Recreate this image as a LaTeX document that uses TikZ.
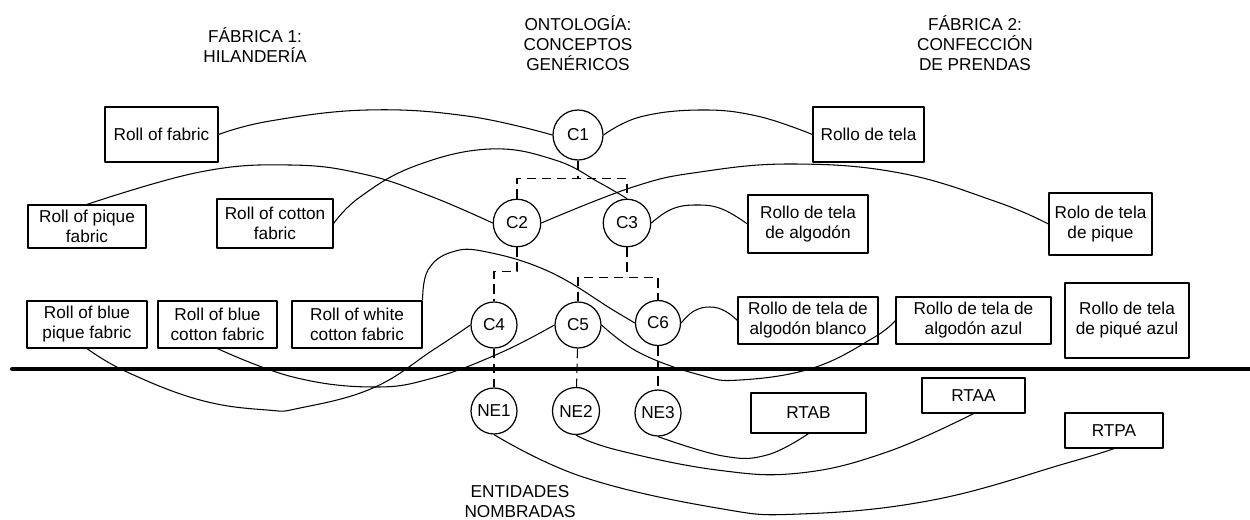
\documentclass[tikz,border=0pt]{standalone}
\usepackage{fontspec}
\setmainfont{Liberation Sans}

\begin{document}
\begin{tikzpicture}[x=0.02cm,y=-0.02cm,line join=round,
  every node/.style={font=\fontsize{9.8}{11.4}\selectfont,align=center},
  rollbox/.style={draw,line width=0.7pt,rectangle,inner sep=1pt},
  concept/.style={draw,line width=0.7pt,circle,minimum size=0.95cm,inner sep=0pt},
  heading/.style={inner sep=0pt},
  link/.style={line width=0.6pt},
  tree/.style={line width=0.6pt,dash pattern=on 0.19cm off 0.11cm}]

  \useasboundingbox (0,0) rectangle (1250,520);

  % headings
  \node[heading] (hfab1) at (255,45) {FÁBRICA 1:\\HILANDERÍA};
  \node[heading] (honto) at (578,43) {ONTOLOGÍA:\\CONCEPTOS\\GENÉRICOS};
  \node[heading] (hfab2) at (975,43) {FÁBRICA 2:\\CONFECCIÓN\\DE PRENDAS};
  \node[heading] (hent) at (520,502) {ENTIDADES\\NOMBRADAS};

  % fabrica 1
  \node[rollbox,minimum width=2.26cm,minimum height=1.10cm] (fabric) at (161.5,134.5) {Roll of fabric};
  \node[rollbox,minimum width=2.36cm,minimum height=0.86cm] (pique) at (87,226.5) {Roll of pique\\fabric};
  \node[rollbox,minimum width=2.32cm,minimum height=0.98cm] (cotton) at (275,223.5) {Roll of cotton\\fabric};
  \node[rollbox,minimum width=2.40cm,minimum height=0.94cm] (bluepique) at (87,324.5) {Roll of blue\\pique fabric};
  \node[rollbox,minimum width=2.38cm,minimum height=0.94cm] (bluecotton) at (217.5,324.5) {Roll of blue\\cotton fabric};
  \node[rollbox,minimum width=2.60cm,minimum height=0.94cm] (whitecotton) at (357,324.5) {Roll of white\\cotton fabric};

  % fabrica 2
  \node[rollbox,minimum width=2.22cm,minimum height=1.10cm] (tela) at (868.5,134.5) {Rollo de tela};
  \node[rollbox,minimum width=2.40cm,minimum height=1.16cm] (telaalg) at (808,224) {Rollo de tela\\de algodón};
  \node[rollbox,minimum width=2.06cm,minimum height=1.24cm] (telapiq) at (1100.5,224) {Rolo de tela\\de pique};
  \node[rollbox,minimum width=2.80cm,minimum height=0.94cm] (telablanco) at (808,320.5) {Rollo de tela de\\algodón blanco};
  \node[rollbox,minimum width=3.10cm,minimum height=0.94cm] (telaazul) at (973.5,320.5) {Rollo de tela de\\algodón azul};
  \node[rollbox,minimum width=2.48cm,minimum height=1.50cm] (telapiqazul) at (1127,320.5) {Rollo de tela\\de piqué azul};

  % entidades nombradas
  \node[rollbox,minimum width=2.30cm,minimum height=0.80cm] (rtab) at (808.5,413) {RTAB};
  \node[rollbox,minimum width=2.06cm,minimum height=0.70cm] (rtaa) at (973.5,395.5) {RTAA};
  \node[rollbox,minimum width=1.96cm,minimum height=0.70cm] (rtpa) at (1114,430.5) {RTPA};

  % ontologia
  \node[concept,minimum size=1cm] (c1) at (578,135) {C1};
  \node[concept] (c2) at (517,223) {C2};
  \node[concept] (c3) at (627,223) {C3};
  \node[concept,minimum size=0.92cm] (c4) at (494,325) {C4};
  \node[concept,minimum size=0.92cm] (c5) at (578,325) {C5};
  \node[concept,minimum size=0.9cm] (c6) at (658,323) {C6};
  \node[concept,minimum size=0.92cm] (ne1) at (494,411) {NE1};
  \node[concept,minimum size=0.94cm] (ne2) at (576,411) {NE2};
  \node[concept,minimum size=0.92cm] (ne3) at (658,413) {NE3};

  % jerarquia
  \draw[tree] (c1.south) -- ++(0,18) coordinate (c1j);
  \draw[tree] (c2.north) |- (c1j) -| (c3.north);
  \draw[tree] (c2.south) -- ++(0,24) -| (c4.north);
  \draw[tree] (c3.south) -- ++(0,30) coordinate (c3j);
  \draw[tree] (c5.north) |- (c3j) -| (c6.north);
  \draw[tree] (c4) -- (ne1);
  \draw[tree] (c5) -- (ne2);
  \draw[tree] (c6) -- (ne3);

  % separador
  \draw[line width=2.3pt,line cap=round] (12,369) -- (1250,369);

  % correspondencias
  \begin{scope}[link]
    \draw plot[smooth,tension=0.7] coordinates
      {(fabric.east) (270,121) (367,110) (467,116) (c1.west)};
    \draw plot[smooth,tension=0.7] coordinates
      {(c1.east) (640,117) (700,110) (757,116) (tela.west)};
    \draw plot[smooth,tension=0.7] coordinates
      {(pique.north) (200,172) (290,165) (363,174) (430,196) (c2.west)};
    \draw plot[smooth,tension=0.7] coordinates
      {(cotton.east) (360,197) (415,166) (490,149) (555,160) (600,183) (c3.north)};
    \draw plot[smooth,tension=0.7] coordinates
      {(c2.east) (633,187) (700,172) (793,164) (900,173) (997,202) (telapiq.west)};
    \draw plot[smooth,tension=0.7] coordinates
      {(c3.east) (672,209) (697,205) (722,209) (telaalg.west)};
    \draw plot[smooth,tension=0.7] coordinates
      {(whitecotton.north east) (428,270) (452,252) (487,252) (550,272) (613,310) (c6.west)};
    \draw plot[smooth,tension=0.7] coordinates
      {(c4.west) (433,350) (373,388) (300,408) (267,410) (200,400) (127,372) (bluepique.south)};
    \draw plot[smooth,tension=0.7] coordinates
      {(c5.west) (500,353) (433,378) (373,387) (293,377) (bluecotton.south)};
    \draw plot[smooth,tension=0.7] coordinates
      {(c5.east) (640,353) (700,375) (740,380) (813,368) (873,338) (telaazul.west)};
    \draw plot[smooth,tension=0.7] coordinates
      {(c6.east) (694,311) (710,307) (725,311) (telablanco.west)};
    \draw plot[smooth,tension=0.7] coordinates
      {(ne1.south) (583,477) (717,508) (800,514) (933,500) (1067,463) (rtpa.south)};
    \draw plot[smooth,tension=0.7] coordinates
      {(ne2.south) (617,450) (717,470) (800,473) (887,452) (rtaa.south)};
    \draw plot[smooth,tension=0.7] coordinates
      {(ne3.south) (723,456) (767,455) (rtab.south)};
  \end{scope}

\end{tikzpicture}
\end{document}
